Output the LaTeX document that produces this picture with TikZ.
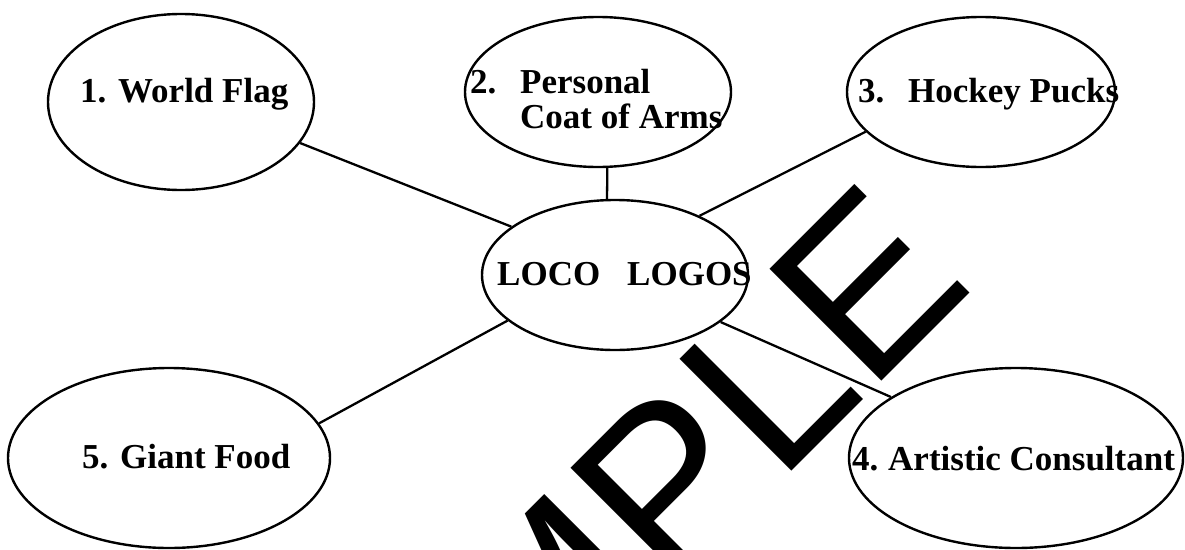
\documentclass[tikz,border=0pt]{standalone}
\usepackage{fontspec}
\setmainfont{Liberation Serif}
\newfontfamily\wmfont{Liberation Sans}
\usetikzlibrary{shapes.geometric}
\begin{document}
\begin{tikzpicture}[x=1pt,y=-1pt,
  bubble/.style={draw=black, fill=white, ellipse, line width=2.4pt, inner sep=0pt},
  lbl/.style={anchor=base west, inner sep=0pt, font=\fontsize{35}{35}\selectfont\bfseries},
  link/.style={draw=black, line width=2.3pt}]
\useasboundingbox (0,0) rectangle (1185,549);
\clip (0,0) rectangle (1185,549);
\fill[white] (0,0) rectangle (1185,549);
% watermark
\node[rotate=45, anchor=base west, inner sep=0pt, font=\fontsize{230}{230}\selectfont\wmfont] (wm) at (317,946) {SAMPLE};
% ellipses
\node[bubble, minimum width=266pt, minimum height=176pt] (e1) at (181,102) {};
\node[bubble, minimum width=266pt, minimum height=150pt] (e2) at (598,92) {};
\node[bubble, minimum width=268pt, minimum height=150pt] (e3) at (981,92) {};
\node[bubble, minimum width=266pt, minimum height=150pt] (c) at (615,275) {};
\node[bubble, minimum width=322pt, minimum height=180pt] (e5) at (169,458) {};
\node[bubble, minimum width=334pt, minimum height=180pt] (e4) at (1016,458) {};
% connectors
\draw[link] (e1.-19.3) -- (c.155.7);
\draw[link] (e2.-83.1) -- (c.96.1);
\draw[link] (c.35.2) -- (e3.-161.3);
\draw[link] (c.-24.6) -- (e4.154.7);
\draw[link] (c.-157) -- (e5.13.7);
% labels
\node[lbl] (t1) at (80,102) {1. World Flag};
\node[lbl] (t2a) at (470,93) {\makebox[50pt][l]{2.}Personal};
\node[lbl] (t2b) at (520,128) {Coat of Arms};
\node[lbl] (t3) at (858,102) {\makebox[50pt][l]{3.}Hockey Pucks};
\node[lbl] (tc) at (497,285) {\makebox[130pt][l]{LOCO}LOGOS};
\node[lbl] (t5) at (82,468) {5. Giant Food};
\node[lbl] (t4) at (852,470) {\makebox[36pt][l]{4.}Artistic Consultant};
\end{tikzpicture}
\end{document}
